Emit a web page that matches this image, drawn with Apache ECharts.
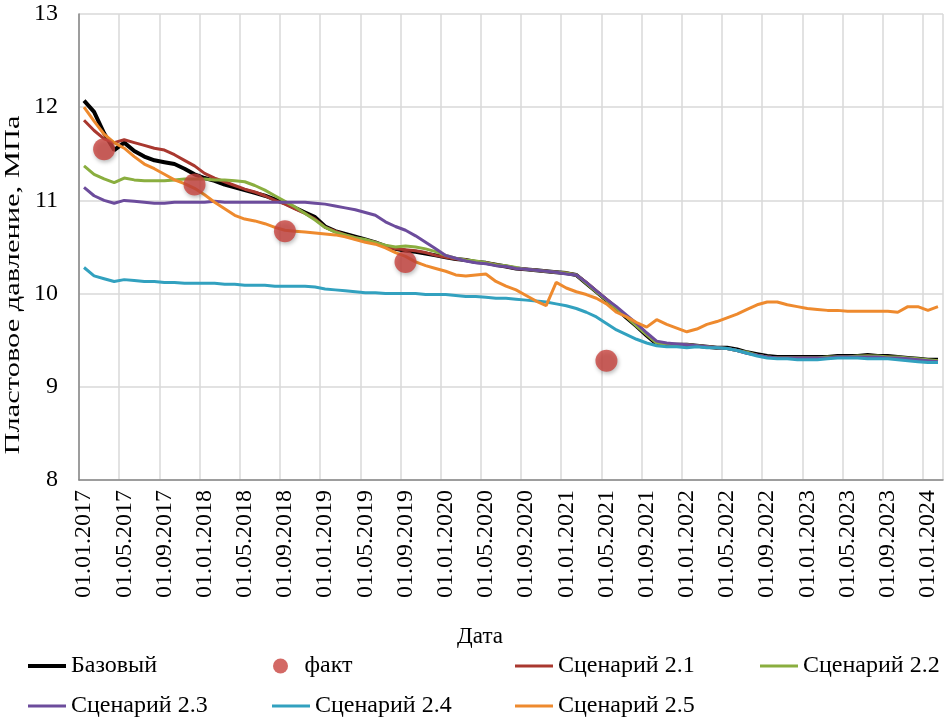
<!DOCTYPE html>
<html>
<head>
<meta charset="utf-8">
<script src="https://cdn.jsdelivr.net/npm/echarts@6/dist/echarts.min.js"></script>
<style>
  html, body { margin: 0; padding: 0; background: #fff; }
  #chart { width: 948px; height: 727px; }
</style>
</head>
<body>
<div id="chart"></div>
<script>
// monthly dates, 01.01.2017 .. 01.02.2024
const dates = [];
for (let y = 2017; y <= 2024; y++) {
  for (let m = 1; m <= 12; m++) {
    if (dates.length >= 86) break;
    dates.push('01.' + (m < 10 ? '0' + m : m) + '.' + y);
  }
}

const yTicks = [8, 9, 10, 11, 12, 13];

const baseLine = [
  12.07, 11.95, 11.72, 11.54, 11.62, 11.53, 11.47, 11.43, 11.41, 11.39, 11.34, 11.28,
  11.24, 11.21, 11.17, 11.14, 11.11, 11.08, 11.05, 11.01, 10.97, 10.92, 10.87, 10.82,
  10.72, 10.67, 10.64, 10.61, 10.58, 10.55, 10.51, 10.48, 10.46, 10.45, 10.43, 10.41,
  10.39, 10.37, 10.36, 10.34, 10.33, 10.31, 10.29, 10.27, 10.26, 10.25, 10.24, 10.23,
  10.22, 10.20, 10.11, 10.02, 9.93, 9.84, 9.74, 9.65, 9.55, 9.46, 9.45, 9.45,
  9.45, 9.44, 9.43, 9.42, 9.42, 9.40, 9.37, 9.35, 9.33, 9.32, 9.32, 9.32,
  9.32, 9.32, 9.32, 9.33, 9.33, 9.33, 9.34, 9.33, 9.33, 9.32, 9.31, 9.30,
  9.29, 9.29
];

const factDates = ['01.03.2017', '01.12.2017', '01.09.2018', '01.09.2019', '01.05.2021'];
const factValues = [11.55, 11.17, 10.67, 10.34, 9.28];

const scen21 = [
  11.86, 11.75, 11.66, 11.62, 11.65, 11.62, 11.59, 11.56, 11.54, 11.49, 11.43, 11.37,
  11.29, 11.24, 11.20, 11.16, 11.12, 11.09, 11.05, 11.00, 10.96, 10.91, 10.86, 10.80,
  10.71, 10.67, 10.63, 10.60, 10.57, 10.55, 10.51, 10.48, 10.47, 10.46, 10.44, 10.41,
  10.39, 10.37, 10.36, 10.34, 10.33, 10.31, 10.29, 10.27, 10.26, 10.25, 10.24, 10.23,
  10.22, 10.20, 10.12, 10.03, 9.94, 9.85, 9.75, 9.66, 9.56, 9.47, 9.46, 9.45,
  9.45, 9.44, 9.43, 9.42, 9.41, 9.39, 9.36, 9.34, 9.32, 9.31, 9.31, 9.31,
  9.31, 9.31, 9.31, 9.32, 9.32, 9.32, 9.33, 9.32, 9.32, 9.31, 9.30, 9.29,
  9.28, 9.28
];

const scen22 = [
  11.37, 11.28, 11.23, 11.19, 11.24, 11.22, 11.21, 11.21, 11.21, 11.22, 11.23, 11.23,
  11.23, 11.22, 11.22, 11.21, 11.20, 11.16, 11.11, 11.05, 10.99, 10.93, 10.86, 10.79,
  10.71, 10.66, 10.63, 10.60, 10.58, 10.55, 10.52, 10.50, 10.51, 10.50, 10.48, 10.45,
  10.41, 10.38, 10.36, 10.35, 10.33, 10.31, 10.30, 10.28, 10.26, 10.25, 10.24, 10.23,
  10.22, 10.20, 10.11, 10.02, 9.93, 9.84, 9.75, 9.65, 9.56, 9.47, 9.46, 9.45,
  9.45, 9.44, 9.43, 9.42, 9.41, 9.39, 9.37, 9.34, 9.32, 9.31, 9.31, 9.31,
  9.31, 9.31, 9.32, 9.32, 9.32, 9.33, 9.33, 9.33, 9.32, 9.32, 9.31, 9.30,
  9.29, 9.28
];

const scen23 = [
  11.14, 11.05, 11.00, 10.97, 11.00, 10.99, 10.98, 10.97, 10.97, 10.98, 10.98, 10.98,
  10.98, 10.99, 10.98, 10.98, 10.98, 10.98, 10.98, 10.98, 10.98, 10.98, 10.98, 10.97,
  10.96, 10.94, 10.92, 10.90, 10.87, 10.84, 10.77, 10.72, 10.68, 10.62, 10.55, 10.48,
  10.41, 10.38, 10.35, 10.33, 10.32, 10.30, 10.29, 10.27, 10.26, 10.25, 10.24, 10.23,
  10.21, 10.20, 10.12, 10.03, 9.94, 9.86, 9.77, 9.68, 9.58, 9.49, 9.47, 9.46,
  9.45, 9.44, 9.43, 9.42, 9.41, 9.39, 9.36, 9.34, 9.32, 9.31, 9.31, 9.31,
  9.31, 9.31, 9.31, 9.32, 9.32, 9.32, 9.32, 9.32, 9.31, 9.31, 9.30, 9.29,
  9.28, 9.27
];

const scen24 = [
  10.28, 10.19, 10.16, 10.13, 10.15, 10.14, 10.13, 10.13, 10.12, 10.12, 10.11, 10.11,
  10.11, 10.11, 10.10, 10.10, 10.09, 10.09, 10.09, 10.08, 10.08, 10.08, 10.08, 10.07,
  10.05, 10.04, 10.03, 10.02, 10.01, 10.01, 10.00, 10.00, 10.00, 10.00, 9.99, 9.99,
  9.99, 9.98, 9.97, 9.97, 9.96, 9.95, 9.95, 9.94, 9.93, 9.92, 9.91, 9.89,
  9.87, 9.84, 9.80, 9.75, 9.68, 9.61, 9.56, 9.51, 9.47, 9.44, 9.43, 9.43,
  9.42, 9.43, 9.42, 9.42, 9.41, 9.39, 9.36, 9.33, 9.31, 9.30, 9.30, 9.29,
  9.29, 9.29, 9.30, 9.31, 9.31, 9.31, 9.30, 9.30, 9.30, 9.29, 9.28, 9.27,
  9.26, 9.26
];

const scen25 = [
  12.00, 11.85, 11.71, 11.62, 11.56, 11.47, 11.39, 11.34, 11.28, 11.22, 11.18, 11.13,
  11.06, 10.98, 10.91, 10.84, 10.80, 10.78, 10.75, 10.71, 10.68, 10.67, 10.66, 10.65,
  10.64, 10.63, 10.61, 10.58, 10.55, 10.53, 10.49, 10.44, 10.40, 10.34, 10.30, 10.27,
  10.24, 10.20, 10.19, 10.20, 10.21, 10.13, 10.08, 10.04, 9.98, 9.92, 9.87, 10.12,
  10.06, 10.02, 9.99, 9.95, 9.89, 9.80, 9.75, 9.69, 9.64, 9.72, 9.67, 9.63,
  9.59, 9.62, 9.67, 9.70, 9.74, 9.78, 9.83, 9.88, 9.91, 9.91, 9.88, 9.86,
  9.84, 9.83, 9.82, 9.82, 9.81, 9.81, 9.81, 9.81, 9.81, 9.80, 9.86, 9.86,
  9.82, 9.86
];

const FONT = '"Liberation Serif", "Times New Roman", serif';

const lineSeries = [
  { name: 'Базовый', data: baseLine, color: '#000000', width: 4 },
  { name: 'Сценарий 2.1', data: scen21, color: '#a9382f', width: 3 },
  { name: 'Сценарий 2.2', data: scen22, color: '#8aae3f', width: 3 },
  { name: 'Сценарий 2.3', data: scen23, color: '#6c4c9c', width: 3 },
  { name: 'Сценарий 2.4', data: scen24, color: '#32a1bf', width: 3 },
  { name: 'Сценарий 2.5', data: scen25, color: '#ee8a2e', width: 3 }
];

const series = lineSeries.map(s => ({
  name: s.name,
  type: 'line',
  data: s.data,
  symbol: 'none',
  smooth: false,
  color: s.color,
  lineStyle: { color: s.color, width: s.width },
  z: 2
}));

series.push({
  name: 'факт',
  type: 'scatter',
  data: factDates.map((d, i) => [d, factValues[i]]),
  symbol: 'circle',
  symbolSize: 22,
  color: '#c8433f',
  itemStyle: {
    color: '#c8433f',
    shadowColor: 'rgba(0,0,0,0.35)',
    shadowBlur: 4,
    shadowOffsetX: 1,
    shadowOffsetY: 2
  },
  z: 5
});

// legend boxes laid out like the original (4 columns)
const legendPos = [
  { name: 'Базовый', left: 28, top: 654, h: 4 },
  { name: 'факт', left: 273, top: 654, h: 15 },
  { name: 'Сценарий 2.1', left: 515, top: 654, h: 3 },
  { name: 'Сценарий 2.2', left: 760, top: 654, h: 3 },
  { name: 'Сценарий 2.3', left: 28, top: 694, h: 3 },
  { name: 'Сценарий 2.4', left: 272, top: 694, h: 3 },
  { name: 'Сценарий 2.5', left: 515, top: 694, h: 3 }
];

const legends = legendPos.map(p => ({
  data: [{ name: p.name, icon: p.name === 'факт' ? 'circle' : 'rect' }],
  left: p.left,
  top: p.top,
  padding: 0,
  itemWidth: 38,
  itemHeight: p.h,
  itemGap: 0,
  selectedMode: false,
  textStyle: { fontFamily: FONT, fontSize: 24, color: '#000', lineHeight: 24, padding: [0, 0, 0, 0] }
}));

const chart = echarts.init(document.getElementById('chart'));
chart.setOption({
  animation: false,
  backgroundColor: '#fff',
  grid: { left: 79, right: 5, top: 14, bottom: 247, containLabel: false, outerBoundsMode: 'none' },
  legend: legends,
  xAxis: {
    type: 'category',
    data: dates,
    boundaryGap: true,
    axisLine: { lineStyle: { color: '#868686', width: 1.5 } },
    axisTick: { show: false, interval: 3 },
    axisLabel: {
      interval: 3,
      rotate: 90,
      margin: 10,
      fontFamily: FONT,
      fontSize: 24,
      color: '#000'
    },
    splitLine: { show: true, interval: 3, lineStyle: { color: '#d9d9d9', width: 1.5 } }
  },
  yAxis: {
    type: 'value',
    min: yTicks[0],
    max: yTicks[yTicks.length - 1],
    interval: 1,
    axisLine: { show: true, lineStyle: { color: '#868686', width: 1.5 } },
    axisTick: { show: false },
    axisLabel: { margin: 21, fontFamily: FONT, fontSize: 24, color: '#000' },
    splitLine: { show: true, lineStyle: { color: '#d9d9d9', width: 1.5 } }
  },
  graphic: [
    {
      type: 'text',
      x: 13,
      y: 285,
      rotation: Math.PI / 2,
      scaleX: 1.45,
      style: {
        text: 'Пластовое давление, МПа',
        fontFamily: FONT,
        fontSize: 21,
        fill: '#000',
        align: 'center',
        verticalAlign: 'middle'
      }
    },
    {
      type: 'text',
      x: 480,
      y: 637,
      style: {
        text: 'Дата',
        fontFamily: FONT,
        fontSize: 23,
        fill: '#000',
        align: 'center',
        verticalAlign: 'middle'
      }
    }
  ],
  series: series
});
</script>
</body>
</html>
